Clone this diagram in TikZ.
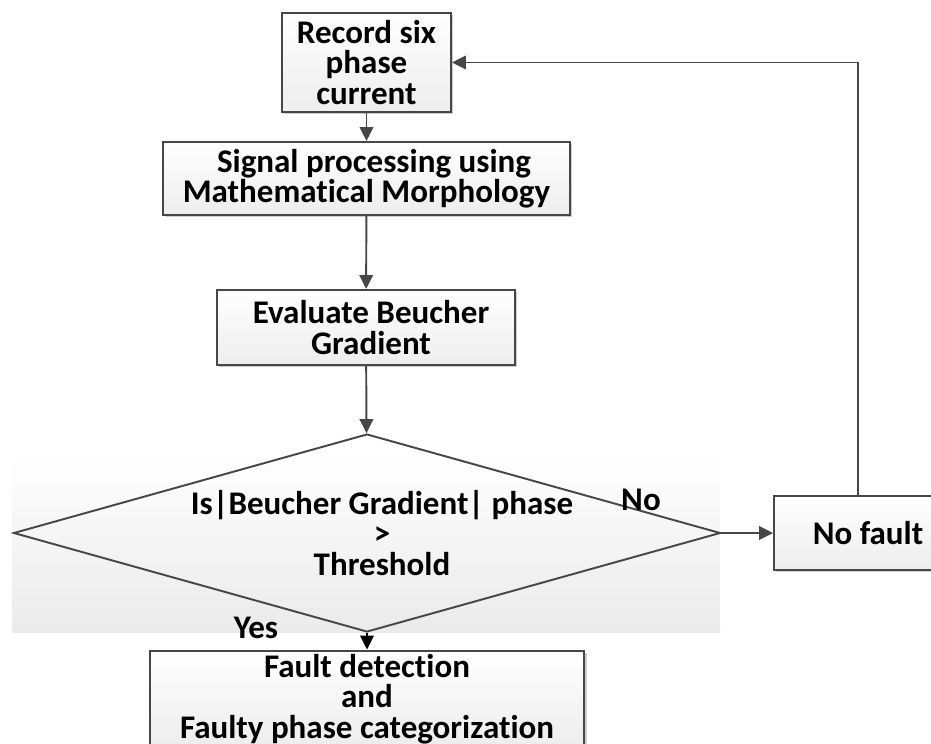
\documentclass[tikz,border=0pt]{standalone}
\usepackage{fontspec}
\setmainfont{Carlito}[Ligatures=NoCommon]
\usetikzlibrary{arrows.meta,shapes.geometric,shadows,positioning}
\tikzset{
  flow/.style={-{Triangle[length=2.8mm,width=2.7mm]}, line width=1.1pt, draw=black!72},
  procbox/.style={draw=black!72, line width=1.1pt, top color=white, bottom color=black!7,
    align=center, inner sep=2pt, font=\bfseries\fontsize{18.8}{17.4}\selectfont,
    drop shadow={shadow xshift=1.4pt, shadow yshift=-1.4pt, fill=black!40, opacity=0.5}},
  decision/.style={diamond, draw=black!72, line width=1.1pt, inner sep=0pt,
    minimum width=14.14cm, minimum height=3.96cm, shape aspect=3.57},
  note/.style={font=\bfseries\fontsize{18.8}{17.4}\selectfont, align=center}
}
\begin{document}
\begin{tikzpicture}[x=0.02cm, y=-0.02cm]
  \useasboundingbox (0,0) rectangle (931,744);
  \shade[top color=white, bottom color=black!8] (12,450) rectangle (720,632);
  \node[procbox, minimum width=3.38cm, minimum height=1.98cm] (rec) at (366.5,62.5) {Record six\\phase\\current};
  \node[procbox, minimum width=8.14cm, minimum height=1.46cm] (sig) at (366.5,178.5) {\hspace*{0.3cm}Signal processing using\\Mathematical Morphology};
  \node[procbox, minimum width=5.96cm, minimum height=1.5cm] (beu) at (366,327.5) {\hspace*{0.2cm}Evaluate Beucher\\\hspace*{0.2cm}Gradient};
  \node[decision] (test) at (367,533) {};
  \node[note] (testtxt) at (382,533) {Is|Beucher Gradient| phase\\>\\Threshold};
  \node[procbox, minimum width=3.36cm, minimum height=1.48cm] (nofault) at (858,533) {\hspace*{0.4cm}No fault};
  \node[procbox, minimum width=8.7cm, minimum height=1.88cm] (fault) at (367,699) {Fault detection\\and\\Faulty phase categorization};
  \node[note] (no) at (641,500) {No};
  \node[note] (yes) at (256,628) {Yes};
  \draw[flow] (rec) -- (sig);
  \draw[flow] (sig) -- (beu);
  \draw[flow] (beu) -- (test);
  \draw[flow] (test) -- (nofault);
  \draw[flow] (nofault.north) |- (rec.east);
  \draw[flow, draw=black] (test) -- (fault);
\end{tikzpicture}
\end{document}
